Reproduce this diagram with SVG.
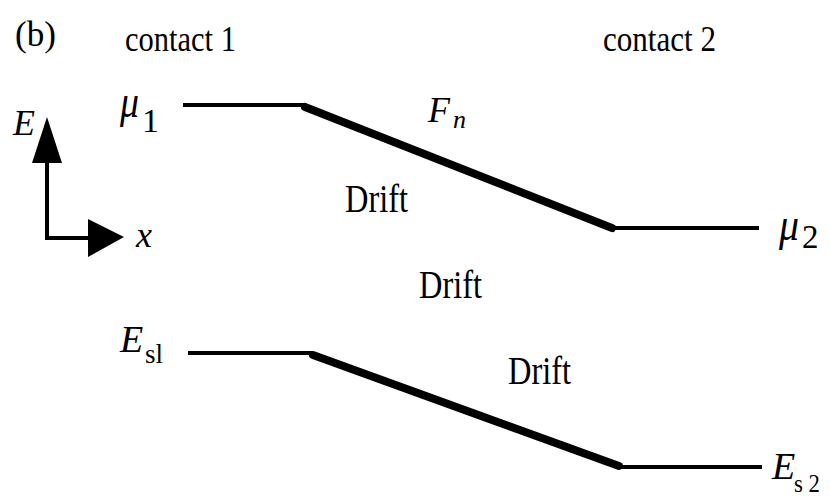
<svg xmlns="http://www.w3.org/2000/svg" width="830" height="499" viewBox="0 0 830 499">
<style>
text{fill:#000}
.i{font-style:italic}
.thin{stroke:#000;stroke-width:4;fill:none;stroke-linecap:butt}
.thick{stroke:#000;stroke-width:8;fill:none;stroke-linecap:round}
</style>
<rect width="830" height="499" fill="#fff"/>
<g font-family="Liberation Serif, Times New Roman, serif">
<g id="labels">
<text x="15" y="46" font-size="36" textLength="41" lengthAdjust="spacingAndGlyphs">(b)</text>
<text x="125" y="51" font-size="36" textLength="111" lengthAdjust="spacingAndGlyphs">contact 1</text>
<text x="603" y="51" font-size="36" textLength="113" lengthAdjust="spacingAndGlyphs">contact 2</text>
</g>
<g id="axes">
<line class="thin" x1="47" y1="240" x2="47" y2="158"/>
<polygon points="47,117 32,163 62,163" fill="#000"/>
<line class="thin" x1="45" y1="238" x2="92" y2="238"/>
<polygon points="124,237 88,219 88,257" fill="#000"/>
<text class="i" x="13" y="135" font-size="36">E</text>
<text class="i" x="136" y="247" font-size="36">x</text>
</g>
<g id="mu1"><text class="i" x="120" y="117" font-size="46" textLength="19" lengthAdjust="spacingAndGlyphs">μ</text><text x="142" y="132" font-size="34">1</text></g>
<g id="mu2"><text class="i" x="779" y="240" font-size="46" textLength="20" lengthAdjust="spacingAndGlyphs">μ</text><text x="802" y="248" font-size="33">2</text></g>
<g id="Fn"><text class="i" x="428" y="122" font-size="36">F<tspan font-size="26" x="453" y="128">n</tspan></text></g>
<g id="Es1"><text class="i" x="120" y="352" font-size="38">E<tspan font-style="normal" font-size="28" x="145" y="363" textLength="18" lengthAdjust="spacingAndGlyphs">sl</tspan></text></g>
<g id="Es2"><text class="i" x="772" y="479" font-size="38">E<tspan font-style="normal" font-size="26" x="794" y="492" textLength="26" lengthAdjust="spacingAndGlyphs">s 2</tspan></text></g>
<g id="drift1"><text x="345" y="212" font-size="40" textLength="63" lengthAdjust="spacingAndGlyphs">Drift</text></g>
<g id="drift2"><text x="419" y="298" font-size="40" textLength="63" lengthAdjust="spacingAndGlyphs">Drift</text></g>
<g id="drift3"><text x="508" y="384" font-size="40" textLength="63" lengthAdjust="spacingAndGlyphs">Drift</text></g>
</g>
<g id="connectors">
<line class="thin" x1="183" y1="105" x2="305" y2="105"/>
<line class="thick" x1="305" y1="107" x2="612" y2="228"/>
<line class="thin" x1="612" y1="228" x2="759" y2="228"/>
<line class="thin" x1="188" y1="353" x2="313" y2="353"/>
<line class="thick" x1="313" y1="355" x2="619" y2="466"/>
<line class="thin" x1="619" y1="467" x2="762" y2="467"/>
</g>
</svg>
